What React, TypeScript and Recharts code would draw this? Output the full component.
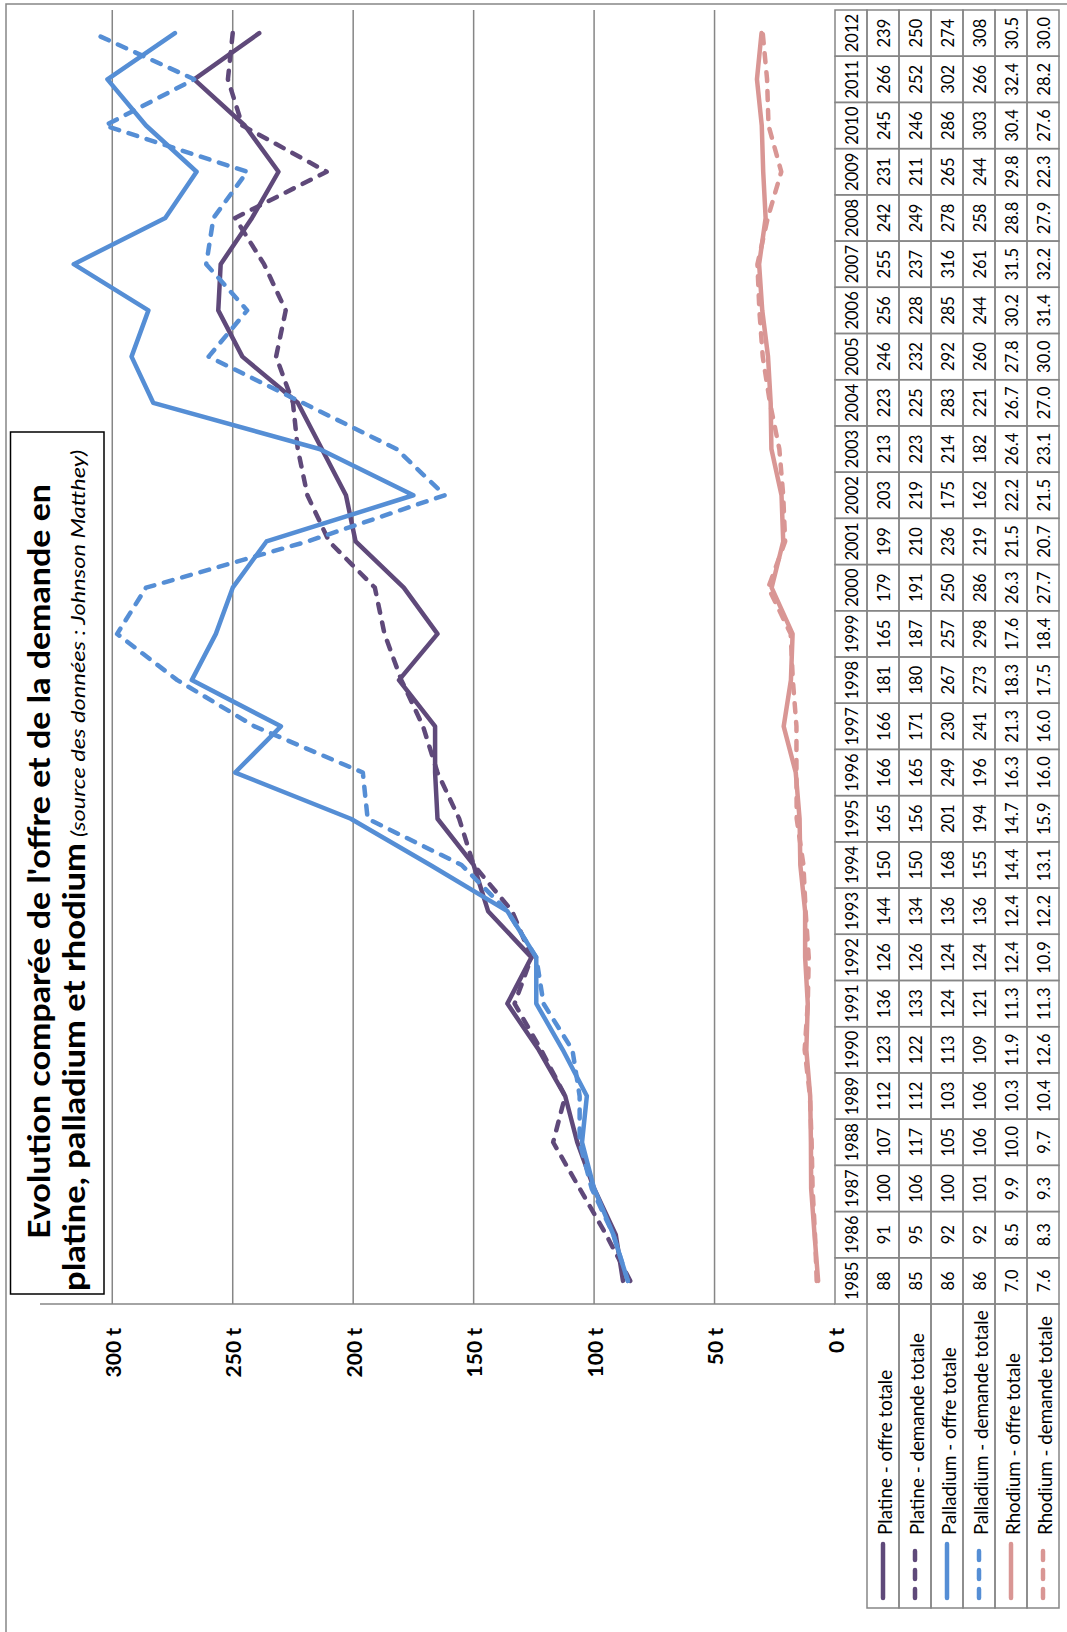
import { Line, LineChart, ReferenceLine, XAxis, YAxis } from "recharts"

const years = [
  1985, 1986, 1987, 1988, 1989, 1990, 1991, 1992, 1993, 1994, 1995, 1996, 1997, 1998,
  1999, 2000, 2001, 2002, 2003, 2004, 2005, 2006, 2007, 2008, 2009, 2010, 2011, 2012,
]
const platineOffre = [88, 91, 100, 107, 112, 123, 136, 126, 144, 150, 165, 166, 166, 181, 165, 179, 199, 203, 213, 223, 246, 256, 255, 242, 231, 245, 266, 239]
const platineDemande = [85, 95, 106, 117, 112, 122, 133, 126, 134, 150, 156, 165, 171, 180, 187, 191, 210, 219, 223, 225, 232, 228, 237, 249, 211, 246, 252, 250]
const palladiumOffre = [86, 92, 100, 105, 103, 113, 124, 124, 136, 168, 201, 249, 230, 267, 257, 250, 236, 175, 214, 283, 292, 285, 316, 278, 265, 286, 302, 274]
const palladiumDemande = [86, 92, 101, 106, 106, 109, 121, 124, 136, 155, 194, 196, 241, 273, 298, 286, 219, 162, 182, 221, 260, 244, 261, 258, 244, 303, 266, 308]
const rhodiumOffre = [7.0, 8.5, 9.9, 10.0, 10.3, 11.9, 11.3, 12.4, 12.4, 14.4, 14.7, 16.3, 21.3, 18.3, 17.6, 26.3, 21.5, 22.2, 26.4, 26.7, 27.8, 30.2, 31.5, 28.8, 29.8, 30.4, 32.4, 30.5]
const rhodiumDemande = [7.6, 8.3, 9.3, 9.7, 10.4, 12.6, 11.3, 10.9, 12.2, 13.1, 15.9, 16.0, 16.0, 17.5, 18.4, 27.7, 20.7, 21.5, 23.1, 27.0, 30.0, 31.4, 32.2, 27.9, 22.3, 27.6, 28.2, 30.0]
const valueTicks = [0, 50, 100, 150, 200, 250, 300]
const gridValues = [50, 100, 150, 200, 250, 300]

const PURPLE = "#5f497a"
const BLUE = "#558ed5"
const PINK = "#d99694"
const GRAY = "#868686"
const FONT = "Lato, 'Open Sans', sans-serif"

const series = [
  { key: "platineOffre", name: "Platine - offre totale", values: platineOffre, color: PURPLE, dashed: false, decimals: 0 },
  { key: "platineDemande", name: "Platine - demande totale", values: platineDemande, color: PURPLE, dashed: true, decimals: 0 },
  { key: "palladiumOffre", name: "Palladium - offre totale", values: palladiumOffre, color: BLUE, dashed: false, decimals: 0 },
  { key: "palladiumDemande", name: "Palladium - demande totale", values: palladiumDemande, color: BLUE, dashed: true, decimals: 0 },
  { key: "rhodiumOffre", name: "Rhodium - offre totale", values: rhodiumOffre, color: PINK, dashed: false, decimals: 1 },
  { key: "rhodiumDemande", name: "Rhodium - demande totale", values: rhodiumDemande, color: PINK, dashed: true, decimals: 1 },
]

const data = years.map((year, i) => {
  const row: Record<string, number> = { year }
  series.forEach((s) => (row[s.key] = s.values[i]))
  return row
})

// chart is laid out unrotated, then turned a quarter turn to the left
const W = 1632
const H = 1067
const PLOT_LEFT = 328
const PLOT_RIGHT = 1622
const PLOT_TOP = 40
const PLOT_BOTTOM = 835
const ROW_H = 32
const COL_W = (PLOT_RIGHT - PLOT_LEFT) / years.length
const DASH = "9 10"

function ValueTick(props: any) {
  const { x, y, payload } = props
  return (
    <text x={x} y={y} textAnchor="end" dominantBaseline="central" fontFamily={FONT} fontWeight={700} fontSize={21} fill="#000">
      {`${payload.value} t`}
    </text>
  )
}

// each year tick draws its column of the data table
function TableColumn(props: any) {
  const { x, y, payload } = props
  const i = years.indexOf(Number(payload.value))
  const cells = [String(years[i]), ...series.map((s) => s.values[i].toFixed(s.decimals))]
  return (
    <g>
      {cells.map((label, r) => (
        <g key={r}>
          <rect x={x - COL_W / 2} y={y + r * ROW_H} width={COL_W} height={ROW_H} fill="none" stroke={GRAY} strokeWidth={1.5} />
          <text x={x} y={y + r * ROW_H + ROW_H / 2 + 1} textAnchor="middle" dominantBaseline="central" fontFamily={FONT} fontSize={16.5} fill="#000">
            {label}
          </text>
        </g>
      ))}
    </g>
  )
}

function Overlay() {
  return (
    <svg width={W} height={H} style={{ position: "absolute", left: 0, top: 0, pointerEvents: "none" }}>
      <rect x={-4} y={6} width={1632} height={1070} fill="none" stroke={GRAY} strokeWidth={1.5} />
      {series.map((s, r) => {
        const top = PLOT_BOTTOM + (r + 1) * ROW_H
        const mid = top + ROW_H / 2
        return (
          <g key={s.key}>
            <rect x={24} y={top} width={PLOT_LEFT - 24} height={ROW_H} fill="none" stroke={GRAY} strokeWidth={1.5} />
            <line x1={34} x2={88} y1={mid} y2={mid} stroke={s.color} strokeWidth={4.5} strokeLinecap="round" strokeDasharray={s.dashed ? DASH : undefined} />
            <text x={97} y={mid + 1} dominantBaseline="central" fontFamily={FONT} fontSize={18.8} fill="#000">
              {s.name}
            </text>
          </g>
        )
      })}
      <rect x={338} y={10.5} width={862} height={93.5} fill="#fff" stroke="#000" strokeWidth={1.5} />
      <text x={393} y={50} textLength={755} lengthAdjust="spacingAndGlyphs" fontFamily={FONT} fontWeight={700} fontSize={31} fill="#000">
        Evolution comparée de l'offre et de la demande en
      </text>
      <text x={341} y={85} textLength={448} lengthAdjust="spacingAndGlyphs" fontFamily={FONT} fontWeight={700} fontSize={31} fill="#000">
        platine, palladium et rhodium
      </text>
      <text x={795} y={85} textLength={387} lengthAdjust="spacingAndGlyphs" fontFamily={FONT} fontStyle="italic" fontSize={20} fill="#000">
        (source des données : Johnson Matthey)
      </text>
    </svg>
  )
}

export default function App() {
  return (
    <div style={{ position: "absolute", left: 0, top: 0, width: 1067, height: 1632, overflow: "hidden", background: "#fff" }}>
      <div style={{ position: "absolute", left: 0, top: 0, width: W, height: H, transformOrigin: "0 0", transform: `translateY(${W}px) rotate(-90deg)` }}>
        <LineChart width={W} height={H} data={data} margin={{ top: PLOT_TOP, right: W - PLOT_RIGHT, bottom: 0, left: 0 }}>
          <XAxis
            dataKey="year"
            scale="point"
            padding={{ left: COL_W / 2, right: COL_W / 2 }}
            height={H - PLOT_BOTTOM}
            axisLine={false}
            tickLine={false}
            tickSize={0}
            tickMargin={0}
            interval={0}
            tick={<TableColumn />}
          />
          <YAxis
            width={PLOT_LEFT}
            domain={[0, 330]}
            ticks={valueTicks}
            axisLine={{ stroke: GRAY, strokeWidth: 1.5 }}
            tickLine={false}
            tickSize={0}
            tickMargin={24}
            tick={<ValueTick />}
          />
          {gridValues.map((v) => (
            <ReferenceLine key={v} y={v} stroke={GRAY} strokeWidth={1.5} />
          ))}
          {series.map((s) => (
            <Line
              key={s.key}
              dataKey={s.key}
              name={s.name}
              type="linear"
              stroke={s.color}
              strokeWidth={4.5}
              strokeDasharray={s.dashed ? DASH : undefined}
              strokeLinecap="round"
              strokeLinejoin="round"
              dot={false}
              activeDot={false}
              isAnimationActive={false}
            />
          ))}
        </LineChart>
        <Overlay />
      </div>
    </div>
  )
}
